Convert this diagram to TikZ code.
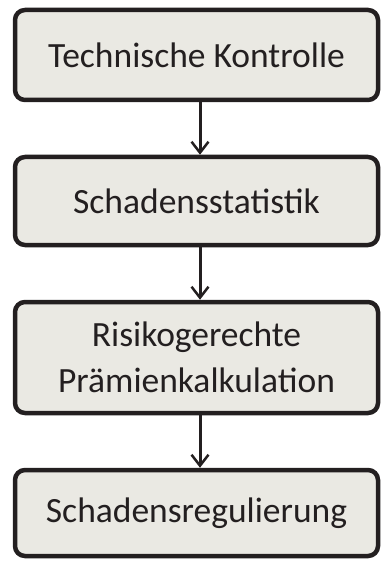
\documentclass[tikz,border=0pt]{standalone}
\usepackage{fontspec}
\setmainfont{Carlito}
\usetikzlibrary{arrows.meta}
\definecolor{boxfill}{HTML}{EAE9E3}
\definecolor{txt}{HTML}{231F20}
\tikzset{
  stage/.style={draw=txt, line width=4.5pt, rounded corners=10pt, fill=boxfill,
    minimum width=363pt, align=center, text=txt, inner sep=0pt,
    font=\fontsize{35.5}{46}\selectfont},
  flow/.style={draw=txt, line width=3pt, -{Straight Barb[length=11pt,width=17pt,line width=2.5pt]}}
}
\begin{document}
\begin{tikzpicture}[x=1pt,y=1pt]
\useasboundingbox (0,0) rectangle (380,-561);
\node[stage, minimum height=90pt] (b1) at (196.5,-55) {Technische Kontrolle};
\node[stage, minimum height=88pt] (b2) at (196.5,-201) {Schadensstatistik};
\node[stage, minimum height=111pt] (b3) at (196.5,-357.5) {Risikogerechte\\Prämienkalkulation};
\node[stage, minimum height=86pt] (b4) at (196.5,-513) {Schadensregulierung};
\coordinate (ax) at (200,0);
\draw[flow] (b1.south -| ax) -- (b2.north -| ax);
\draw[flow] (b2.south -| ax) -- (b3.north -| ax);
\draw[flow] (b3.south -| ax) -- (b4.north -| ax);
\end{tikzpicture}
\end{document}
